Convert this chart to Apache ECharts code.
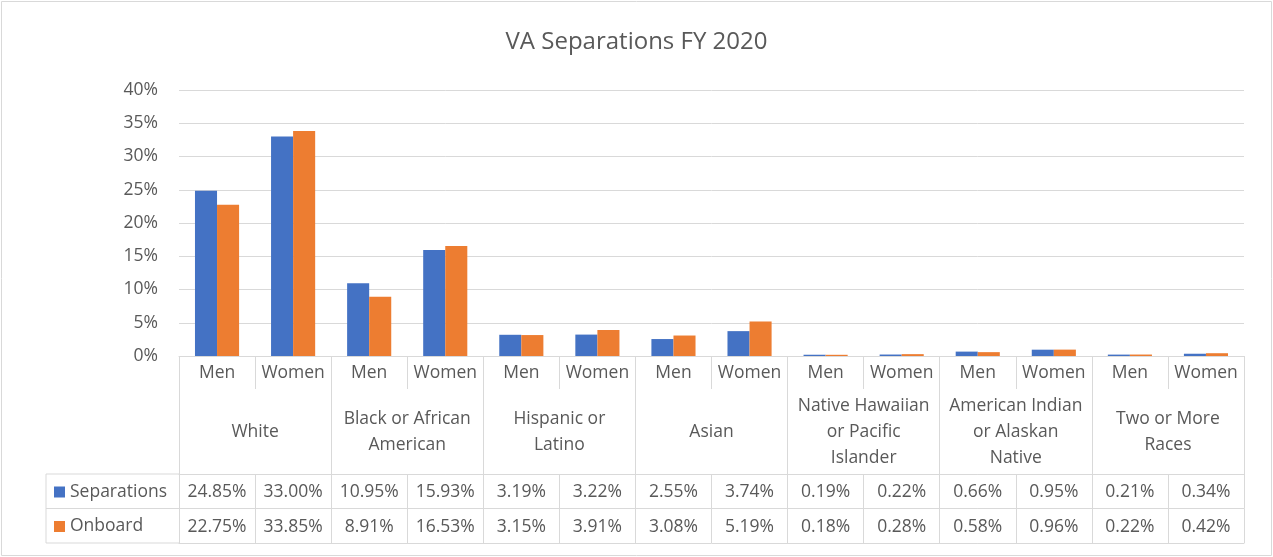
<!DOCTYPE html>
<html>
<head>
<meta charset="utf-8">
<title>VA Separations FY 2020</title>
<script src="https://cdn.jsdelivr.net/npm/echarts@6/dist/echarts.min.js"></script>
<style>
  html, body { margin: 0; padding: 0; background: #fff; }
  #chart { width: 1273px; height: 557px; }
</style>
</head>
<body>
<div id="chart"></div>
<script>
// data
const genders = ['Men', 'Women', 'Men', 'Women', 'Men', 'Women', 'Men', 'Women', 'Men', 'Women', 'Men', 'Women', 'Men', 'Women']
const groups = ['White', 'Black or African\nAmerican', 'Hispanic or\nLatino', 'Asian', 'Native Hawaiian\nor Pacific\nIslander', 'American Indian\nor Alaskan\nNative', 'Two or More\nRaces']
const separations = [24.85, 33.00, 10.95, 15.93, 3.19, 3.22, 2.55, 3.74, 0.19, 0.22, 0.66, 0.95, 0.21, 0.34]
const onboard = [22.75, 33.85, 8.91, 16.53, 3.15, 3.91, 3.08, 5.19, 0.18, 0.28, 0.58, 0.96, 0.22, 0.42]
const yTicks = [0, 5, 10, 15, 20, 25, 30, 35, 40]

// layout
const W = 1273, H = 557
const plotLeft = 179, plotRight = 29, plotTop = 90, plotBottom = 201
const axisY = H - plotBottom
const rowGender = 33, rowGroup = 118, rowData = 34.5
const tableLeft = 46
const lineColor = '#d9d9d9'
const textColor = '#595959'
const font = 'Open Sans'
const fs = 17.5

const chart = echarts.init(document.getElementById('chart'), null, { renderer: 'canvas' })

const pct = v => v.toFixed(2) + '%'

const tableAxis = (labels, offset, tickLen) => ({
  type: 'category',
  position: 'bottom',
  data: labels,
  offset: offset,
  axisLine: { show: true, lineStyle: { color: lineColor, width: 1 } },
  axisTick: { show: tickLen > 0, interval: 0, length: tickLen, lineStyle: { color: lineColor, width: 1 } },
  axisLabel: {
    show: labels.length > 0 && tickLen > 0,
    interval: 0,
    margin: rowData / 2 + 1,
    verticalAlign: 'middle',
    color: textColor,
    fontFamily: font,
    fontSize: fs
  }
})

const y0 = axisY + rowGroup
const y1 = y0 + rowData
const y2 = y1 + rowData

chart.setOption({
  animation: false,
  title: {
    text: 'VA Separations FY 2020',
    left: 'center',
    top: 25,
    textStyle: { color: textColor, fontFamily: font, fontSize: 24, fontWeight: 'normal' }
  },
  legend: {
    orient: 'vertical',
    left: tableLeft + 8,
    top: y0 + 9,
    padding: 0,
    itemWidth: 11,
    itemHeight: 11,
    itemGap: 16.5,
    icon: 'rect',
    textStyle: { color: textColor, fontFamily: font, fontSize: fs, lineHeight: 18 },
    data: ['Separations', 'Onboard']
  },
  grid: { left: plotLeft, right: plotRight, top: plotTop, bottom: plotBottom, containLabel: false },
  xAxis: [
    // Men / Women row
    {
      type: 'category',
      position: 'bottom',
      data: genders,
      axisLine: { show: true, lineStyle: { color: lineColor, width: 1 } },
      axisTick: { show: true, interval: 0, length: rowGender, lineStyle: { color: lineColor, width: 1 } },
      axisLabel: { interval: 0, margin: 17, verticalAlign: 'middle', color: textColor, fontFamily: font, fontSize: fs }
    },
    // group row
    {
      type: 'category',
      position: 'bottom',
      data: groups,
      axisLine: { show: false },
      axisTick: { show: true, interval: 0, length: rowGroup, lineStyle: { color: lineColor, width: 1 } },
      axisLabel: { interval: 0, margin: 76, verticalAlign: 'middle', lineHeight: 26, color: textColor, fontFamily: font, fontSize: fs }
    },
    tableAxis(separations.map(pct), rowGroup, rowData),
    tableAxis(onboard.map(pct), rowGroup + rowData, rowData),
    tableAxis([''], rowGroup + rowData * 2, 0)
  ],
  yAxis: {
    type: 'value',
    min: yTicks[0],
    max: yTicks[yTicks.length - 1],
    interval: yTicks[1] - yTicks[0],
    axisLine: { show: false },
    axisTick: { show: false },
    splitLine: { lineStyle: { color: lineColor, width: 1 } },
    axisLabel: { formatter: '{value}%', margin: 21, color: textColor, fontFamily: font, fontSize: fs }
  },
  series: [
    {
      name: 'Separations',
      type: 'bar',
      data: separations,
      barGap: '0%',
      barCategoryGap: '42%',
      itemStyle: { color: '#4472C4' }
    },
    {
      name: 'Onboard',
      type: 'bar',
      data: onboard,
      barGap: '0%',
      barCategoryGap: '42%',
      itemStyle: { color: '#ED7D31' }
    }
  ],
  graphic: [
    // chart border
    {
      type: 'rect',
      shape: { x: 1.5, y: 1.5, width: W - 3, height: H - 3 },
      style: { fill: null, stroke: lineColor, lineWidth: 1 },
      silent: true
    },
    // legend column of the data table
    {
      type: 'polyline',
      shape: { points: [[plotLeft, y0], [tableLeft, y0], [tableLeft, y2], [plotLeft, y2]] },
      style: { fill: null, stroke: lineColor, lineWidth: 1 },
      silent: true
    },
    {
      type: 'line',
      shape: { x1: tableLeft, y1: y1, x2: plotLeft, y2: y1 },
      style: { stroke: lineColor, lineWidth: 1 },
      silent: true
    }
  ]
})
</script>
</body>
</html>
